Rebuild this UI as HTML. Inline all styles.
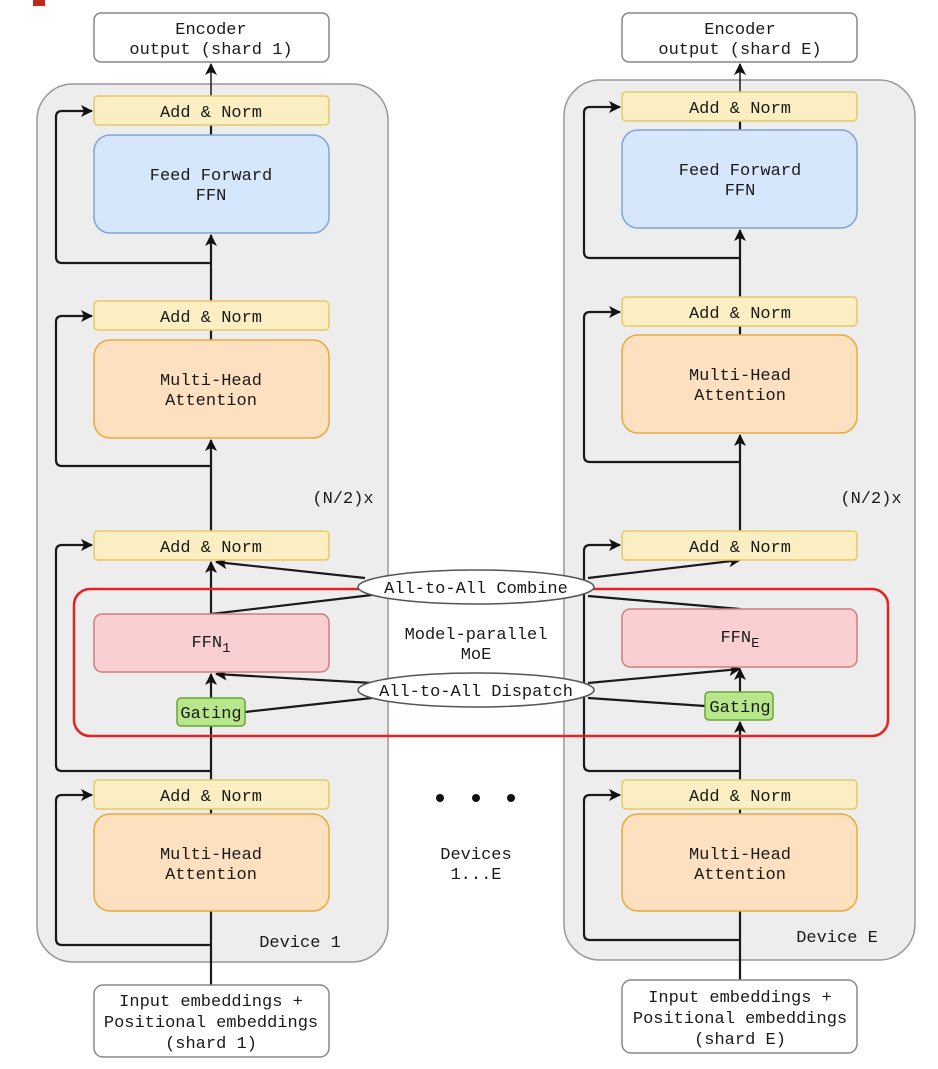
<!DOCTYPE html>
<html><head><meta charset="utf-8"><style>
body{margin:0;background:#fff}
svg text{font-family:"Liberation Mono","DejaVu Sans Mono",monospace;font-size:17px;fill:#1a1a1a;text-anchor:middle}
</style></head><body>
<svg width="938" height="1064" viewBox="0 0 938 1064" xmlns="http://www.w3.org/2000/svg">
<defs>
<marker id="a" markerWidth="12" markerHeight="12" refX="11" refY="6" orient="auto" markerUnits="userSpaceOnUse"><path d="M0,0 L12,6 L0,12 L3,6 z" fill="#111"/></marker>
</defs>
<rect x="33" y="0" width="12" height="6" fill="#c0281c"/>
<rect x="37" y="84" width="351" height="878" rx="36" fill="#ededed" stroke="#999" stroke-width="1.5"/>
<rect x="564" y="80" width="351" height="880" rx="36" fill="#ededed" stroke="#999" stroke-width="1.5"/>
<g stroke="#1a1a1a" stroke-width="2.2" fill="none">
<line x1="211" y1="985" x2="211" y2="911"/>
<line x1="211" y1="814" x2="211" y2="809"/>
<line x1="211" y1="780" x2="211" y2="726"/>
<line x1="211" y1="698" x2="211" y2="674" marker-end="url(#a)"/>
<line x1="211" y1="614" x2="211" y2="562" marker-end="url(#a)"/>
<line x1="211" y1="531" x2="211" y2="440" marker-end="url(#a)"/>
<line x1="211" y1="340" x2="211" y2="330"/>
<line x1="211" y1="301" x2="211" y2="235" marker-end="url(#a)"/>
<line x1="211" y1="135" x2="211" y2="125"/>
<line x1="211" y1="96" x2="211" y2="64" marker-end="url(#a)" stroke-width="1.5"/>
<path d="M211,945 H62 Q56,945 56,939 V801 Q56,795 62,795 H92" marker-end="url(#a)"/>
<path d="M211,771 H62 Q56,771 56,765 V551 Q56,545 62,545 H92" marker-end="url(#a)"/>
<path d="M211,466 H62 Q56,466 56,460 V322 Q56,316 62,316 H92" marker-end="url(#a)"/>
<path d="M211,263 H62 Q56,263 56,257 V117 Q56,111 62,111 H92" marker-end="url(#a)"/>
<line x1="740" y1="980" x2="740" y2="911"/>
<line x1="740" y1="814" x2="740" y2="809"/>
<line x1="740" y1="780" x2="740" y2="722" marker-end="url(#a)"/>
<line x1="740" y1="692" x2="740" y2="669" marker-end="url(#a)"/>
<line x1="740" y1="531" x2="740" y2="435" marker-end="url(#a)"/>
<line x1="740" y1="335" x2="740" y2="326"/>
<line x1="740" y1="297" x2="740" y2="230" marker-end="url(#a)"/>
<line x1="740" y1="130" x2="740" y2="121"/>
<line x1="740" y1="92" x2="740" y2="64" marker-end="url(#a)" stroke-width="1.5"/>
<path d="M740,940 H590 Q584,940 584,934 V801 Q584,795 590,795 H620" marker-end="url(#a)"/>
<path d="M740,771 H590 Q584,771 584,765 V551 Q584,545 590,545 H620" marker-end="url(#a)"/>
<path d="M740,462 H590 Q584,462 584,456 V318 Q584,312 590,312 H620" marker-end="url(#a)"/>
<path d="M740,258 H590 Q584,258 584,252 V113 Q584,107 590,107 H620" marker-end="url(#a)"/>
<line x1="211" y1="614" x2="372" y2="595"/>
<line x1="365" y1="578" x2="216" y2="562" marker-end="url(#a)"/>
<line x1="588" y1="578" x2="740" y2="560" marker-end="url(#a)"/>
<line x1="588" y1="596" x2="740" y2="609"/>
<line x1="245" y1="712" x2="372" y2="698"/>
<line x1="372" y1="683" x2="216" y2="674" marker-end="url(#a)"/>
<line x1="588" y1="683" x2="740" y2="669" marker-end="url(#a)"/>
<line x1="588" y1="698" x2="705" y2="706"/>
</g>
<rect x="74" y="589" width="814" height="147" rx="16" fill="none" stroke="#e52222" stroke-width="2.5"/>
<g stroke-width="1.5">
<rect x="94" y="13" width="235" height="49" rx="7" fill="#fff" stroke="#888"/>
<rect x="94" y="96" width="235" height="29" rx="4" fill="#fbeec2" stroke="#e8c865"/>
<rect x="94" y="135" width="235" height="98" rx="16" fill="#d7e7fb" stroke="#7da6d8"/>
<rect x="94" y="301" width="235" height="29" rx="4" fill="#fbeec2" stroke="#e8c865"/>
<rect x="94" y="340" width="235" height="98" rx="16" fill="#fce0c0" stroke="#e8aa3c"/>
<rect x="94" y="531" width="235" height="29" rx="4" fill="#fbeec2" stroke="#e8c865"/>
<rect x="94" y="614" width="235" height="58" rx="8" fill="#f9cfd1" stroke="#d07c80"/>
<rect x="177" y="698" width="68" height="28" rx="4" fill="#b8e68a" stroke="#6aa53a"/>
<rect x="94" y="780" width="235" height="29" rx="4" fill="#fbeec2" stroke="#e8c865"/>
<rect x="94" y="814" width="235" height="97" rx="16" fill="#fce0c0" stroke="#e8aa3c"/>
<rect x="94" y="985" width="235" height="72" rx="9" fill="#fff" stroke="#888"/>
<rect x="622" y="13" width="235" height="49" rx="7" fill="#fff" stroke="#888"/>
<rect x="622" y="92" width="235" height="29" rx="4" fill="#fbeec2" stroke="#e8c865"/>
<rect x="622" y="130" width="235" height="98" rx="16" fill="#d7e7fb" stroke="#7da6d8"/>
<rect x="622" y="297" width="235" height="29" rx="4" fill="#fbeec2" stroke="#e8c865"/>
<rect x="622" y="335" width="235" height="98" rx="16" fill="#fce0c0" stroke="#e8aa3c"/>
<rect x="622" y="531" width="235" height="29" rx="4" fill="#fbeec2" stroke="#e8c865"/>
<rect x="622" y="609" width="235" height="58" rx="8" fill="#f9cfd1" stroke="#d07c80"/>
<rect x="705" y="692" width="68" height="28" rx="4" fill="#b8e68a" stroke="#6aa53a"/>
<rect x="622" y="780" width="235" height="29" rx="4" fill="#fbeec2" stroke="#e8c865"/>
<rect x="622" y="814" width="235" height="97" rx="16" fill="#fce0c0" stroke="#e8aa3c"/>
<rect x="622" y="980" width="235" height="73" rx="9" fill="#fff" stroke="#888"/>
</g>
<ellipse cx="476" cy="587" rx="118" ry="17" fill="#fff" stroke="#555" stroke-width="1.5"/>
<ellipse cx="476" cy="690" rx="118" ry="17" fill="#fff" stroke="#555" stroke-width="1.5"/>
<text x="211" y="34">Encoder</text><text x="211" y="54">output (shard 1)</text>
<text x="211" y="117">Add &amp; Norm</text>
<text x="211" y="180">Feed Forward</text><text x="211" y="200">FFN</text>
<text x="211" y="322">Add &amp; Norm</text>
<text x="211" y="385">Multi-Head</text><text x="211" y="405">Attention</text>
<text x="211" y="552">Add &amp; Norm</text>
<text x="211" y="647">FFN<tspan font-size="14" dy="5">1</tspan></text>
<text x="211" y="718" font-size="16">Gating</text>
<text x="211" y="801">Add &amp; Norm</text>
<text x="211" y="859">Multi-Head</text><text x="211" y="879">Attention</text>
<text x="211" y="1006">Input embeddings +</text><text x="211" y="1027">Positional embeddings</text><text x="211" y="1048">(shard 1)</text>
<text x="343" y="503">(N/2)x</text>
<text x="300" y="947">Device 1</text>
<text x="740" y="34">Encoder</text><text x="740" y="54">output (shard E)</text>
<text x="740" y="113">Add &amp; Norm</text>
<text x="740" y="175">Feed Forward</text><text x="740" y="195">FFN</text>
<text x="740" y="318">Add &amp; Norm</text>
<text x="740" y="380">Multi-Head</text><text x="740" y="400">Attention</text>
<text x="740" y="552">Add &amp; Norm</text>
<text x="740" y="642">FFN<tspan font-size="14" dy="5">E</tspan></text>
<text x="740" y="712" font-size="16">Gating</text>
<text x="740" y="801">Add &amp; Norm</text>
<text x="740" y="859">Multi-Head</text><text x="740" y="879">Attention</text>
<text x="740" y="1002">Input embeddings +</text><text x="740" y="1023">Positional embeddings</text><text x="740" y="1044">(shard E)</text>
<text x="871" y="503">(N/2)x</text>
<text x="837" y="942">Device E</text>
<text x="476" y="593">All-to-All Combine</text>
<text x="476" y="696">All-to-All Dispatch</text>
<text x="476" y="639">Model-parallel</text><text x="476" y="659">MoE</text>
<circle cx="440" cy="798" r="4" fill="#111"/><circle cx="476" cy="798" r="4" fill="#111"/><circle cx="511" cy="798" r="4" fill="#111"/>
<text x="476" y="859">Devices</text><text x="476" y="879">1...E</text>
</svg>
</body></html>
